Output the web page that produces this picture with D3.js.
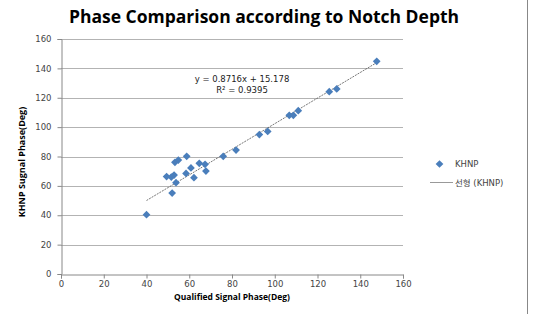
<!DOCTYPE html>
<html><head><meta charset="utf-8">
<script src="https://cdn.jsdelivr.net/npm/d3@7/dist/d3.min.js"></script>
<style>body{margin:0;background:#fff}svg{display:block}</style>
</head><body>
<svg id="c" width="536" height="314"></svg>
<script>
const qualified = [40, 52, 49.4, 52.9, 51.6, 53.8, 53.3, 54.9, 58.8, 58.5, 60.8, 62.2, 64.7, 67.4, 67.8, 75.9, 81.9, 92.8, 96.7, 106.8, 108.7, 111, 125.5, 129, 147.7];
const khnp      = [40.4, 55.1, 66.3, 67.4, 66, 62.2, 76, 77.6, 80.1, 68.5, 72.2, 65.6, 75.4, 74.7, 70.1, 80.1, 84.4, 94.9, 97.1, 108, 108, 111.2, 124.1, 126, 144.8];
const slope = 0.8716, intercept = 15.178, r2 = 0.9395;
const xTicks = [0, 20, 40, 60, 80, 100, 120, 140, 160];
const yTicks = [0, 20, 40, 60, 80, 100, 120, 140, 160];

const svg = d3.select("#c");
const x = d3.scaleLinear().domain([0, 160]).range([61, 403]);
const y = d3.scaleLinear().domain([0, 160]).range([274, 39]);
const tickFont = "DejaVu Sans, Verdana, sans-serif";
const boldFont = "Open Sans, Liberation Sans, sans-serif";

// right border
svg.append("line").attr("x1", 527.5).attr("x2", 527.5).attr("y1", 0).attr("y2", 314)
  .attr("stroke", "#888").attr("stroke-width", 1);

// title
svg.append("text").attr("x", 264).attr("y", 23).attr("text-anchor", "middle")
  .attr("font-family", boldFont).attr("font-weight", "bold").attr("font-size", 17.5)
  .attr("fill", "#000").text("Phase Comparison according to Notch Depth");

// gridlines
svg.append("g").selectAll("line").data(yTicks.filter(d => d > 0)).join("line")
  .attr("x1", 61).attr("x2", 403).attr("y1", d => Math.round(y(d)) + 0.5).attr("y2", d => Math.round(y(d)) + 0.5)
  .attr("stroke", "#b3b3b3").attr("stroke-width", 1);

// axes
const yAxis = svg.append("g").attr("transform", "translate(61.5,0)")
  .call(d3.axisLeft(y).tickValues(yTicks).tickSize(4).tickPadding(6));
const xAxis = svg.append("g").attr("transform", "translate(0,274.5)")
  .call(d3.axisBottom(x).tickValues(xTicks).tickSize(4).tickPadding(2));
[yAxis, xAxis].forEach(a => {
  a.select(".domain").attr("stroke", "#888");
  a.selectAll(".tick line").attr("stroke", "#888");
  a.selectAll(".tick text").attr("font-family", tickFont).attr("font-size", 8.5).attr("fill", "#444");
});

// trendline
const xs = d3.extent(qualified);
svg.append("line")
  .attr("x1", x(xs[0])).attr("y1", y(slope * xs[0] + intercept))
  .attr("x2", x(xs[1])).attr("y2", y(slope * xs[1] + intercept))
  .attr("stroke", "#555").attr("stroke-width", 0.8).attr("stroke-dasharray", "2,1");

// points
const diamond = d3.symbol().type(d3.symbolSquare).size(30);
svg.append("g").selectAll("path").data(qualified.map((q, i) => [q, khnp[i]])).join("path")
  .attr("d", diamond)
  .attr("transform", d => `translate(${x(d[0])},${y(d[1])}) rotate(45)`)
  .attr("fill", "#4a7ebb");

// equation
svg.append("text").attr("x", 242).attr("y", 81.5).attr("text-anchor", "middle")
  .attr("font-family", tickFont).attr("font-size", 8.5).attr("fill", "#222")
  .text("y = " + slope + "x + " + intercept);
svg.append("text").attr("x", 242).attr("y", 93).attr("text-anchor", "middle")
  .attr("font-family", tickFont).attr("font-size", 8.5).attr("fill", "#222")
  .text("R² = " + r2);

// axis titles
svg.append("text").attr("x", 232).attr("y", 300).attr("text-anchor", "middle")
  .attr("font-family", boldFont).attr("font-weight", "bold").attr("font-size", 8.5)
  .text("Qualified Signal Phase(Deg)");
svg.append("text").attr("transform", "translate(25,162) rotate(-90)").attr("text-anchor", "middle")
  .attr("font-family", boldFont).attr("font-weight", "bold").attr("font-size", 9)
  .text("KHNP Sugnal Phase(Deg)");

// legend
const lg = svg.append("g");
lg.append("path").attr("d", diamond).attr("transform", "translate(439.5,164) rotate(45)").attr("fill", "#4a7ebb");
lg.append("text").attr("x", 455).attr("y", 167).attr("font-family", tickFont).attr("font-size", 8.5)
  .attr("fill", "#444").text("KHNP");
lg.append("line").attr("x1", 430).attr("x2", 453).attr("y1", 182.5).attr("y2", 182.5)
  .attr("stroke", "#999").attr("stroke-width", 1);
lg.append("text").attr("x", 455).attr("y", 185.5).attr("font-family", tickFont + ", Noto Sans CJK KR").attr("font-size", 8.5)
  .attr("fill", "#444").text("선형 (KHNP)");
</script>
</body></html>
